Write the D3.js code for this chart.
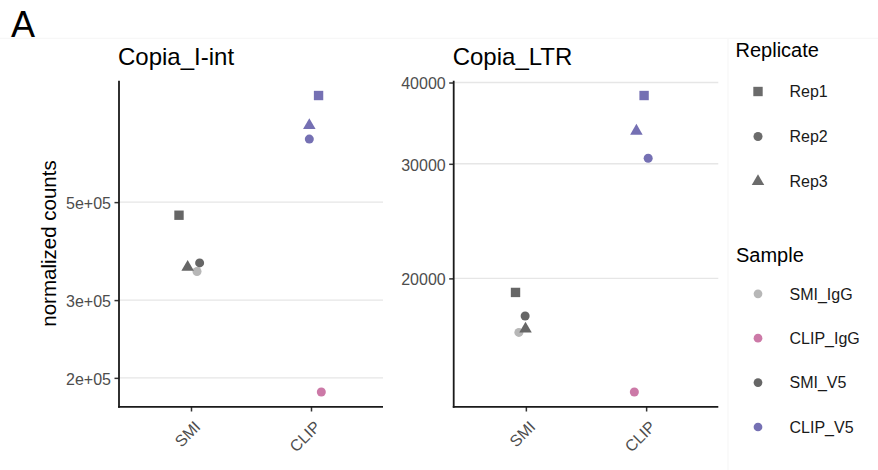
<!DOCTYPE html>
<html>
<head>
<meta charset="utf-8">
<script src="https://cdn.jsdelivr.net/npm/d3@7"></script>
<style>
  body { margin: 0; background: #ffffff; }
  svg { display: block; font-family: "Liberation Sans", Arial, Helvetica, sans-serif; }
</style>
</head>
<body>
<svg id="chart" width="878" height="470"></svg>
<script>
// ---- data ----
const categories = ["SMI", "CLIP"];
const panelTitles = ["Copia_I-int", "Copia_LTR"];
const samples = ["SMI_IgG", "CLIP_IgG", "SMI_V5", "CLIP_V5"];
const sampleColors = ["#b7b7b7", "#cc79a7", "#666666", "#7570b3"];
const replicates = ["Rep1", "Rep2", "Rep3"];

// one row per point, shared by both panels
const pointSample    = ["SMI_IgG", "CLIP_IgG", "SMI_V5", "SMI_V5", "SMI_V5", "CLIP_V5", "CLIP_V5", "CLIP_V5"];
const pointGroup     = ["SMI", "CLIP", "SMI", "SMI", "SMI", "CLIP", "CLIP", "CLIP"];
const pointReplicate = ["Rep2", "Rep2", "Rep1", "Rep2", "Rep3", "Rep1", "Rep2", "Rep3"];

const copiaIntCounts = [348200, 185800, 467000, 364200, 356100, 871700, 694600, 746000];
const copiaIntJitter = [0.05, 0.086, -0.10, 0.072, -0.028, 0.063, -0.014, -0.014];
const copiaLtrCounts = [16520, 13380, 19030, 17510, 16720, 38200, 30600, 33680];
const copiaLtrJitter = [-0.058, -0.098, -0.086, -0.006, -0.003, -0.017, 0.017, -0.081];

const copiaIntTicks = [2e5, 3e5, 5e5];
const copiaIntTickLabels = ["2e+05", "3e+05", "5e+05"];
const copiaLtrTicks = [20000, 30000, 40000];
const copiaLtrTickLabels = ["20000", "30000", "40000"];

const yAxisTitle = "normalized counts";
const figureLetter = "A";

// ---- layout ----
const svg = d3.select("#chart");
const panelTop = 80.7, panelBottom = 406.8;
const panels = [
  { title: panelTitles[0], x0: 119, x1: 383, counts: copiaIntCounts, jitter: copiaIntJitter,
    ticks: copiaIntTicks, tickLabels: copiaIntTickLabels },
  { title: panelTitles[1], x0: 453.7, x1: 718.3, counts: copiaLtrCounts, jitter: copiaLtrJitter,
    ticks: copiaLtrTicks, tickLabels: copiaLtrTickLabels }
];

const colorScale = d3.scaleOrdinal().domain(samples).range(sampleColors);
const shapeScale = d3.scaleOrdinal().domain(replicates)
  .range([d3.symbolSquare, d3.symbolCircle, d3.symbolTriangle]);
const sizeScale = d3.scaleOrdinal().domain(replicates).range([88, 64, 68]);
const symbolPath = rep => d3.symbol().type(shapeScale(rep)).size(sizeScale(rep))();

// faint frame edges around the plot area
svg.append("line").attr("x1", 0).attr("x2", 878).attr("y1", 38.3).attr("y2", 38.3)
  .attr("stroke", "#f5f5f5").attr("stroke-width", 1);
svg.append("line").attr("x1", 728).attr("x2", 728).attr("y1", 38.3).attr("y2", 470)
  .attr("stroke", "#f5f5f5").attr("stroke-width", 1);

svg.append("text").attr("x", 11).attr("y", 36.5)
  .attr("font-size", 36).attr("fill", "#000").text(figureLetter);

svg.append("text")
  .attr("transform", `translate(55.5, 243.5) rotate(-90)`)
  .attr("text-anchor", "middle").attr("font-size", 20.5).attr("fill", "#000")
  .text(yAxisTitle);

panels.forEach(p => {
  const rows = p.counts.map((v, i) => ({
    value: v, sample: pointSample[i], group: pointGroup[i],
    rep: pointReplicate[i], jitter: p.jitter[i]
  }));

  // log scale with 5% padding of the data range, in log space
  const lo = Math.log10(d3.min(p.counts)), hi = Math.log10(d3.max(p.counts));
  const pad = (hi - lo) * 0.05;
  const y = d3.scaleLog().domain([10 ** (lo - pad), 10 ** (hi + pad)]).range([panelBottom, panelTop]);
  const x = d3.scaleLinear().domain([0.4, 2.6]).range([p.x0, p.x1]);
  const catPos = d3.scaleOrdinal().domain(categories).range([1, 2]);

  const g = svg.append("g");

  // gridlines
  g.selectAll("line.grid").data(p.ticks).join("line")
    .attr("x1", p.x0).attr("x2", p.x1)
    .attr("y1", d => y(d)).attr("y2", d => y(d))
    .attr("stroke", "#e6e6e6").attr("stroke-width", 1.4);

  // y axis
  const yAxis = d3.axisLeft(y).tickValues(p.ticks)
    .tickFormat((d, i) => p.tickLabels[i]).tickSize(4.5).tickPadding(4);
  const ya = g.append("g").attr("transform", `translate(${p.x0},0)`).call(yAxis);
  ya.select(".domain").remove();
  ya.selectAll(".tick line").attr("stroke", "#333").attr("stroke-width", 1.5);
  ya.selectAll(".tick text").attr("font-size", 16).attr("fill", "#4d4d4d")
    .attr("font-family", "Liberation Sans, Arial, sans-serif").attr("dy", "0.39em")
    .attr("x", -8);

  // x axis
  const xAxis = d3.axisBottom(x).tickValues(categories.map(c => catPos(c)))
    .tickFormat((d, i) => categories[i]).tickSize(4.7);
  const xa = g.append("g").attr("transform", `translate(0,${panelBottom})`).call(xAxis);
  xa.select(".domain").remove();
  xa.selectAll(".tick line").attr("stroke", "#333").attr("stroke-width", 1.5);
  xa.selectAll(".tick text")
    .attr("font-size", 16).attr("fill", "#4d4d4d")
    .attr("font-family", "Liberation Sans, Arial, sans-serif")
    .attr("text-anchor", "end").attr("y", 0).attr("dy", 0)
    .attr("transform", "translate(10, 21) rotate(-45)");

  // axis lines
  g.append("line").attr("x1", p.x0).attr("x2", p.x0).attr("y1", panelTop).attr("y2", panelBottom + 0.9)
    .attr("stroke", "#1a1a1a").attr("stroke-width", 1.8);
  g.append("line").attr("x1", p.x0 - 0.9).attr("x2", p.x1).attr("y1", panelBottom).attr("y2", panelBottom)
    .attr("stroke", "#1a1a1a").attr("stroke-width", 1.8);

  // title
  g.append("text").attr("x", p.x0 - 1).attr("y", 65.3)
    .attr("font-size", 24).attr("fill", "#000").text(p.title);

  // points
  g.selectAll("path.pt").data(rows).join("path")
    .attr("class", "pt")
    .attr("transform", d => `translate(${x(catPos(d.group) + d.jitter)},${y(d.value)})`)
    .attr("d", d => symbolPath(d.rep))
    .attr("fill", d => colorScale(d.sample));
});

// ---- legends ----
const legend = svg.append("g");
legend.append("text").attr("x", 735.5).attr("y", 57).attr("font-size", 20).attr("fill", "#000").text("Replicate");
const repY = d3.scalePoint().domain(replicates).range([91.5, 181.5]);
replicates.forEach(r => {
  legend.append("path").attr("transform", `translate(758,${repY(r)})`)
    .attr("d", symbolPath(r)).attr("fill", "#6b6b6b");
  legend.append("text").attr("x", 789.5).attr("y", repY(r)).attr("dy", "0.36em")
    .attr("font-size", 16).attr("fill", "#1a1a1a").text(r);
});

legend.append("text").attr("x", 736).attr("y", 261.5).attr("font-size", 20).attr("fill", "#000").text("Sample");
const sampleY = d3.scalePoint().domain(samples).range([293.8, 427]);
samples.forEach(s => {
  legend.append("path").attr("transform", `translate(758,${sampleY(s)})`)
    .attr("d", d3.symbol().type(d3.symbolCircle).size(60)()).attr("fill", colorScale(s));
  legend.append("text").attr("x", 789.5).attr("y", sampleY(s)).attr("dy", "0.36em")
    .attr("font-size", 16).attr("fill", "#1a1a1a").text(s);
});
</script>
</body>
</html>
